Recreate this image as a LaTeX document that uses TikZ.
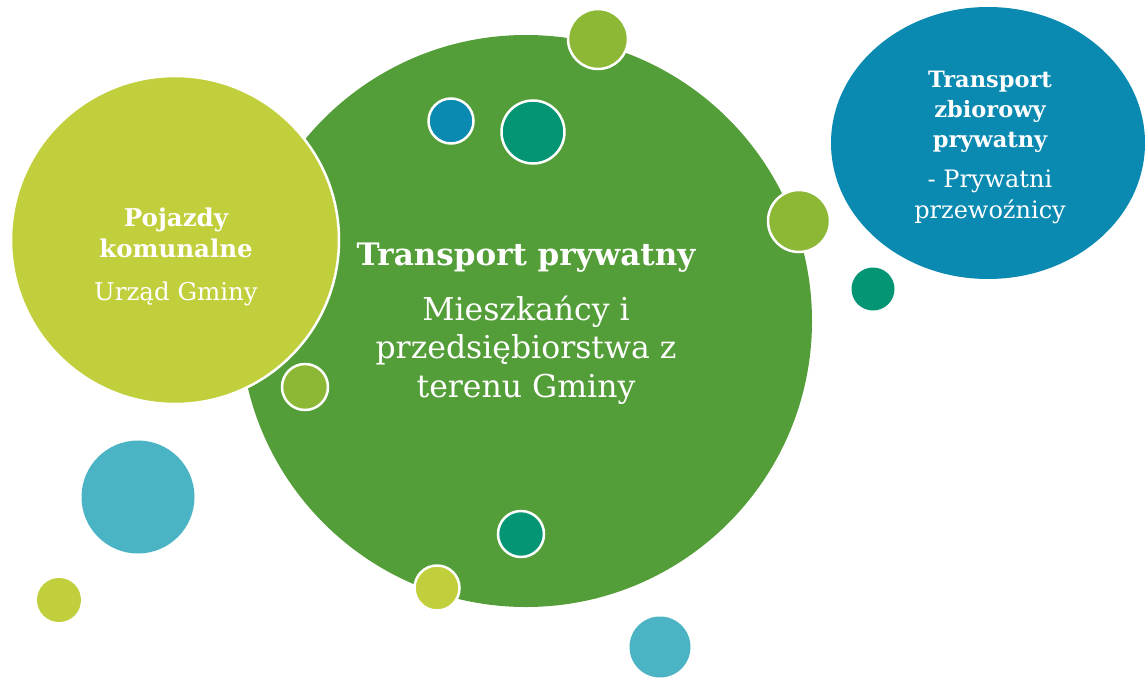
\documentclass[tikz,border=0pt]{standalone}
\usepackage{fontspec}
\setmainfont{DejaVu Serif}
\usetikzlibrary{shapes.geometric}
\definecolor{BigGreen}{HTML}{549E39}
\definecolor{LimeGreen}{HTML}{C2CF3C}
\definecolor{LeafGreen}{HTML}{8DB836}
\definecolor{SeaBlue}{HTML}{0A89B1}
\definecolor{DeepTeal}{HTML}{039574}
\definecolor{SkyCyan}{HTML}{4BB4C4}

\begin{document}
\begin{tikzpicture}[x=1pt,y=-1pt,
    every node/.style={inner sep=0pt},
    bubble/.style={circle,minimum size=#1},
    rim/.style={draw=white,line width=2.5pt},
    whitetxt/.style={text=white,align=center}]
    \useasboundingbox (0,0) rectangle (1145,677);
    % main bubbles
    \node[bubble=572,fill=BigGreen] (private) at (526,321) {};
    \node[bubble=328,fill=LimeGreen,rim] (communal) at (175,240) {};
    \node[ellipse,minimum width=314,minimum height=272,fill=SeaBlue] (collective) at (988,143) {};
    % small dots
    \node[bubble=60,fill=LeafGreen,rim] (leafTop) at (598,39) {};
    \node[bubble=45,fill=SeaBlue,rim] (blueDot) at (451,121) {};
    \node[bubble=63,fill=DeepTeal,rim] (tealTop) at (533,132) {};
    \node[bubble=62,fill=LeafGreen,rim] (leafRight) at (799,221) {};
    \node[bubble=43,fill=DeepTeal] (tealRight) at (873,289) {};
    \node[bubble=46,fill=LeafGreen,rim] (leafLeft) at (305,387) {};
    \node[bubble=46,fill=DeepTeal,rim] (tealLow) at (521,534) {};
    \node[bubble=45,fill=LimeGreen,rim] (limeLow) at (437,588) {};
    \node[bubble=113,fill=SkyCyan] (cyanBig) at (138,497) {};
    \node[bubble=44,fill=LimeGreen] (limeSmall) at (59,600) {};
    \node[bubble=61,fill=SkyCyan] (cyanLow) at (660,647) {};
    % texts (base = last line)
    \node[whitetxt,font=\fontsize{31}{35}\selectfont\bfseries,anchor=base] (privateTitle) at (526,265) {Transport prywatny};
    \node[whitetxt,font=\fontsize{31.5}{38.5}\selectfont,anchor=base] (privateText) at (526,397) {Mieszkańcy i\\przedsiębiorstwa z\\terenu Gminy};
    \node[whitetxt,font=\fontsize{24.5}{31}\selectfont\bfseries,anchor=base] (communalTitle) at (176,257) {Pojazdy\\komunalne};
    \node[whitetxt,font=\fontsize{24.5}{30}\selectfont,anchor=base] (communalText) at (176,300) {Urząd Gminy};
    \node[whitetxt,font=\fontsize{22.5}{30}\selectfont\bfseries,anchor=base] (collectiveTitle) at (990,147) {Transport\\zbiorowy\\prywatny};
    \node[whitetxt,font=\fontsize{24}{31}\selectfont,anchor=base] (collectiveText) at (990,218) {- Prywatni\\przewoźnicy};
\end{tikzpicture}
\end{document}
